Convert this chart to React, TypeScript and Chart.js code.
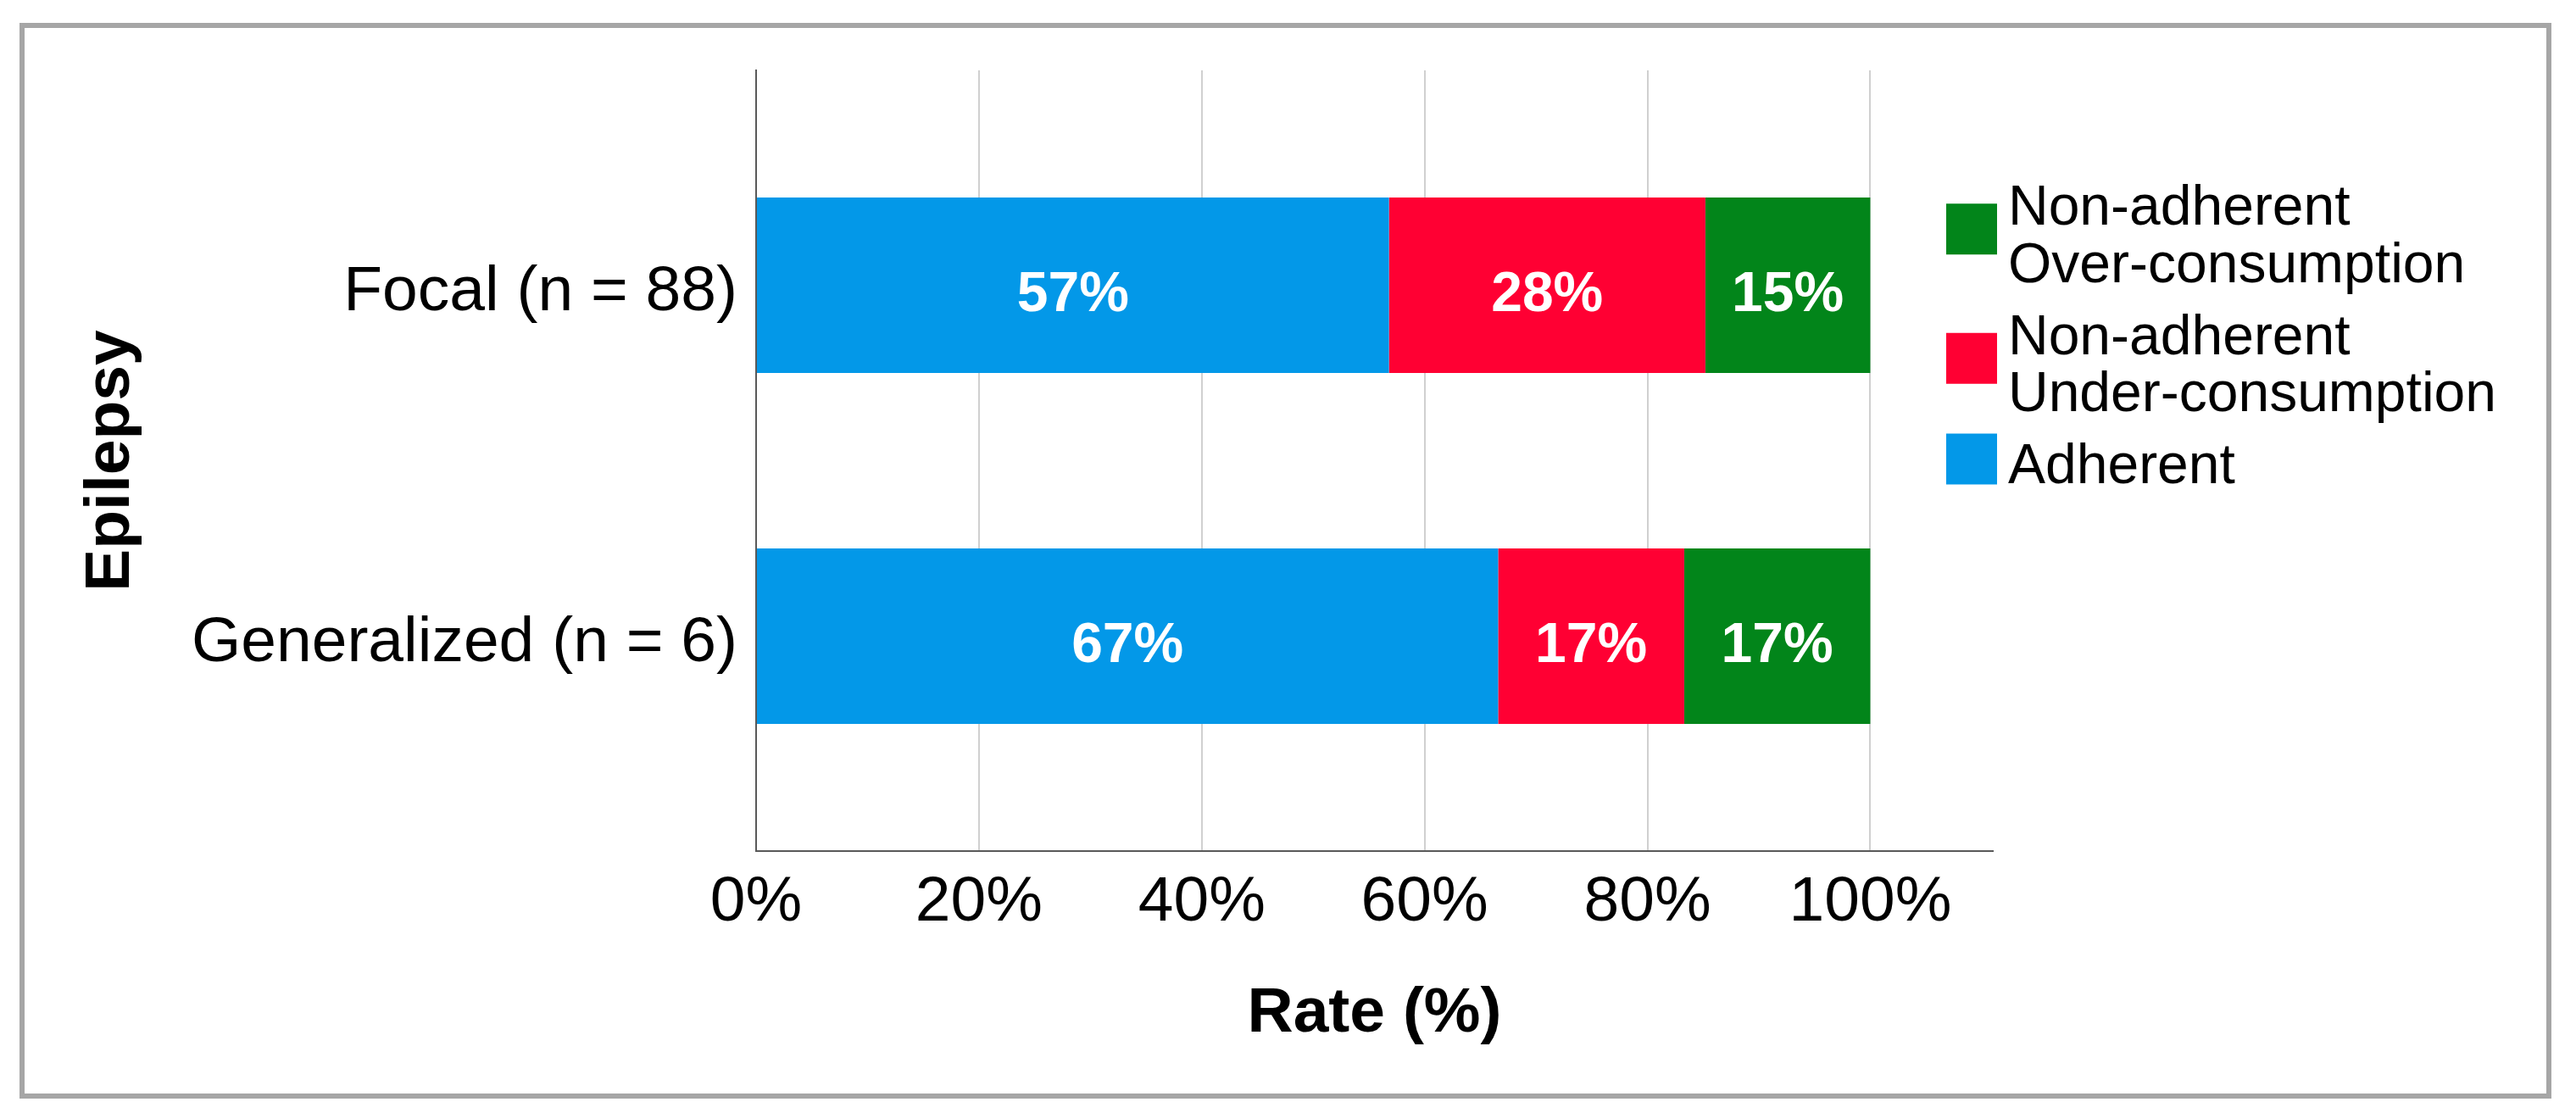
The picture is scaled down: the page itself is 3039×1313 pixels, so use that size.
import React, { useEffect, useRef } from "react";
import { Chart, registerables } from "chart.js";

Chart.register(...registerables);

// ---- Data ----
const categories = ["Focal (n = 88)", "Generalized (n = 6)"];
const adherent = [56.8, 66.6];
const underConsumption = [28.4, 16.7];
const overConsumption = [14.8, 16.7];
const seriesLabels: string[][] = [
  ["Adherent"],
  ["Non-adherent", "Under-consumption"],
  ["Non-adherent", "Over-consumption"],
];
const seriesColors = ["#0398e8", "#ff0033", "#02851a"];
const xTickValues = [0, 20, 40, 60, 80, 100];
const xTitle = "Rate (%)";
const yTitle = "Epilepsy";

const FONT = "'Liberation Sans', Arial, Helvetica, sans-serif";
const W = 3039;
const H = 1313;

const framePlugin = {
  id: "frame",
  beforeDraw(chart: any) {
    const ctx = chart.ctx;
    ctx.save();
    ctx.fillStyle = "#ffffff";
    ctx.fillRect(0, 0, chart.width, chart.height);
    ctx.strokeStyle = "#a6a6a6";
    ctx.lineWidth = 6;
    ctx.strokeRect(26, 30, 2981, 1263);
    ctx.restore();
  },
};

const valueLabelPlugin = {
  id: "valueLabels",
  afterDatasetsDraw(chart: any) {
    const ctx = chart.ctx;
    ctx.save();
    ctx.fillStyle = "#ffffff";
    ctx.font = `bold 66px ${FONT}`;
    ctx.textAlign = "center";
    ctx.textBaseline = "middle";
    chart.data.datasets.forEach((ds: any, di: number) => {
      const meta = chart.getDatasetMeta(di);
      meta.data.forEach((el: any, i: number) => {
        const v = ds.data[i].x;
        const cx = (el.x + el.base) / 2;
        ctx.fillText(`${Math.round(v)}%`, cx, el.y + 12);
      });
    });
    ctx.restore();
  },
};

const legendPlugin = {
  id: "sideLegend",
  afterDraw(chart: any) {
    const ctx = chart.ctx;
    const area = chart.chartArea;
    const boxX = area.right - 55;
    const textX = boxX + 73;
    const lineH = 67.5;
    const itemStep = 85;
    let y = area.top + 163;
    ctx.save();
    ctx.font = `66px ${FONT}`;
    ctx.textAlign = "left";
    ctx.textBaseline = "middle";
    const n = chart.data.datasets.length;
    for (let k = n - 1; k >= 0; k--) {
      const ds = chart.data.datasets[k];
      const lines: string[] = ds.legendLines;
      const first = y;
      const last = y + lineH * (lines.length - 1);
      const boxCenter = (first + last) / 2 - 9.5;
      ctx.fillStyle = ds.backgroundColor;
      ctx.fillRect(boxX, boxCenter - 30, 60, 60);
      ctx.fillStyle = "#000000";
      lines.forEach((t, li) => ctx.fillText(t, textX, first + li * lineH + 1));
      y = last + itemStep;
    }
    ctx.restore();
  },
};

export default function App() {
  const canvasRef = useRef<HTMLCanvasElement | null>(null);

  useEffect(() => {
    if (!canvasRef.current) return;
    const series = [adherent, underConsumption, overConsumption];
    const chart = new Chart(canvasRef.current, {
      type: "bar",
      data: {
        datasets: series.map((vals, si) => ({
          label: seriesLabels[si].join(" "),
          legendLines: seriesLabels[si],
          data: vals.map((v, i) => ({ x: v, y: i })),
          backgroundColor: seriesColors[si],
          borderWidth: 0,
          categoryPercentage: 0.5,
          barPercentage: 1.0,
        })) as any,
      },
      options: {
        indexAxis: "y",
        responsive: false,
        animation: false,
        devicePixelRatio: 1,
        layout: { padding: { left: 0, right: W - 2351, top: 83, bottom: 0 } },
        plugins: {
          legend: { display: false },
          tooltip: { enabled: false },
        },
        scales: {
          x: {
            type: "linear",
            position: "bottom",
            min: 0,
            max: 111,
            stacked: true,
            offset: false,
            afterBuildTicks: (scale: any) => {
              scale.ticks = xTickValues.map((v) => ({ value: v }));
            },
            afterFit: (scale: any) => {
              scale.height = H - 1004;
            },
            ticks: {
              callback: (v: any) => `${v}%`,
              font: { family: FONT, size: 75 },
              color: "#000000",
              padding: 16,
              maxRotation: 0,
              autoSkip: false,
            },
            grid: {
              color: (c: any) => (c.tick && c.tick.value === 0 ? "rgba(0,0,0,0)" : "#d0d0d0"),
              lineWidth: 2,
              drawTicks: false,
              offset: false,
            },
            border: { display: true, color: "#595959", width: 2 },
            title: {
              display: true,
              text: xTitle,
              font: { family: FONT, size: 75, weight: "bold" },
              color: "#000000",
              padding: { top: 0, bottom: 72 },
            },
          },
          y: {
            type: "linear",
            position: "left",
            reverse: true,
            min: -0.612,
            max: 1.612,
            stacked: true,
            offset: false,
            afterBuildTicks: (scale: any) => {
              scale.ticks = categories.map((_, i) => ({ value: i }));
            },
            afterFit: (scale: any) => {
              scale.width = 892;
            },
            ticks: {
              callback: (v: any) => categories[v] ?? "",
              font: { family: FONT, size: 75 },
              color: "#000000",
              padding: 22,
              labelOffset: 9,
              autoSkip: false,
            },
            grid: { display: false, drawTicks: false, offset: false },
            border: { display: true, color: "#595959", width: 2 },
            title: {
              display: true,
              text: yTitle,
              font: { family: FONT, size: 75, weight: "bold" },
              color: "#000000",
              padding: { top: 86, bottom: 0 },
            },
          },
        },
      } as any,
      plugins: [framePlugin, valueLabelPlugin, legendPlugin],
    });
    return () => chart.destroy();
  }, []);

  return (
    <div style={{ position: "absolute", left: 0, top: 0, width: W, height: H }}>
      <canvas ref={canvasRef} width={W} height={H} style={{ display: "block" }} />
    </div>
  );
}
